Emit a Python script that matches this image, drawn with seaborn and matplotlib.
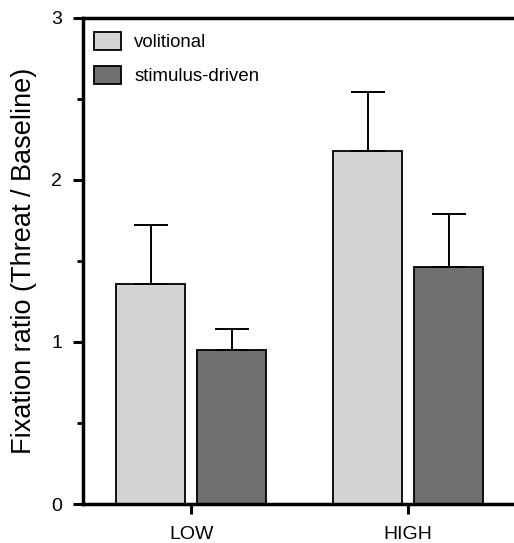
import pandas as pd
import numpy as np
import seaborn as sns
import matplotlib.pyplot as plt
from matplotlib.ticker import MultipleLocator
from matplotlib.patches import Patch

# --- données ---
conditions = ['LOW', 'HIGH']
groups = ['volitional', 'stimulus-driven']
volitional = [1.36, 2.18]
stimulus_driven = [0.95, 1.46]
err_volitional = [0.36, 0.36]
err_stimulus = [0.13, 0.33]

colors = {'volitional': '#d4d4d4', 'stimulus-driven': '#707070'}

df = pd.DataFrame({
    'condition': conditions * 2,
    'groupe': [groups[0]] * 2 + [groups[1]] * 2,
    'ratio': volitional + stimulus_driven,
    'err': err_volitional + err_stimulus,
})

sns.set_style('ticks')
plt.rcParams['font.family'] = ['Liberation Sans', 'DejaVu Sans']
plt.rcParams['text.color'] = 'black'
plt.rcParams['axes.labelcolor'] = 'black'
plt.rcParams['xtick.color'] = 'black'
plt.rcParams['ytick.color'] = 'black'
plt.rcParams['axes.edgecolor'] = 'black'

fig = plt.figure(figsize=(5.14, 5.43), dpi=100)
ax = fig.add_axes([0.1615, 0.0718, 0.8385, 0.8951])

sns.barplot(data=df, x='condition', y='ratio', hue='groupe', order=conditions,
            hue_order=groups, palette=colors, width=0.748, gap=0.15,
            edgecolor='black', linewidth=1.3, errorbar=None, legend=False, ax=ax)

# barres d'erreur (vers le haut seulement)
for bars, g in zip(ax.containers, groups):
    sub = df[df['groupe'] == g].set_index('condition').loc[conditions]
    xs = [b.get_x() + b.get_width() / 2 for b in bars]
    ax.errorbar(xs, sub['ratio'], yerr=[np.zeros(len(xs)), sub['err']],
                fmt='none', ecolor='black', elinewidth=1.4, capsize=12,
                capthick=1.4, zorder=1)

ax.set_ylim(0, 3)
ax.set_xlim(-0.498, 1.488)
ax.yaxis.set_major_locator(MultipleLocator(1))
ax.yaxis.set_minor_locator(MultipleLocator(0.5))
ax.set_ylabel('Fixation ratio (Threat / Baseline)', fontsize=19.5, labelpad=10)
ax.set_xlabel('')

for s in ['left', 'bottom', 'top']:
    ax.spines[s].set_linewidth(2.5)
    ax.spines[s].set_visible(True)
    ax.spines[s].set_color('black')
ax.spines['right'].set_visible(False)
ax.tick_params(axis='both', which='major', direction='out', length=7, width=2.2,
               labelsize=14, colors='black')
ax.tick_params(axis='x', which='major', pad=9)
ax.tick_params(axis='y', which='major', pad=8)
ax.tick_params(axis='y', which='minor', direction='out', length=4, width=2,
               colors='black')
ax.tick_params(axis='x', which='minor', bottom=False)

handles = [Patch(facecolor=colors[g], edgecolor='black', linewidth=1.3) for g in groups]
ax.legend(handles, groups, loc='upper left', frameon=False, fontsize=13.4,
          handlelength=1.45, handleheight=1.13, handletextpad=0.7,
          labelspacing=0.8, borderaxespad=0.3, borderpad=0.3,
          bbox_to_anchor=(0.0, 0.995))

fig.savefig('out.png', dpi=100)
